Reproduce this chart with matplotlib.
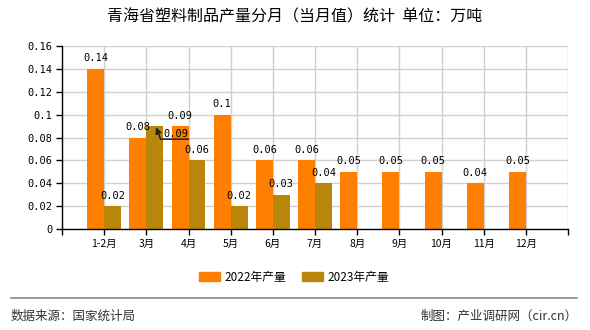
import numpy as np
import matplotlib
matplotlib.use("Agg")
import matplotlib.pyplot as plt
from matplotlib.patches import Patch
from matplotlib.lines import Line2D

plt.rcParams['font.family'] = ['Noto Sans CJK SC', 'DejaVu Sans']

months = ["1-2月", "3月", "4月", "5月", "6月", "7月", "8月", "9月", "10月", "11月", "12月"]
prod_2022 = [0.14, 0.08, 0.09, 0.1, 0.06, 0.06, 0.05, 0.05, 0.05, 0.04, 0.05]
prod_2023 = [0.02, 0.09, 0.06, 0.02, 0.03, 0.04]
series_names = ["2022年产量", "2023年产量"]
title = "青海省塑料制品产量分月（当月值）统计  单位：万吨"
source = "数据来源：国家统计局"
credit = "制图：产业调研网（cir.cn）"

c22 = "#FF8000"
c23 = "#B8860B"
num_font = "DejaVu Sans Mono"

fig = plt.figure(figsize=(5.9, 3.3), dpi=100)
ax = fig.add_axes([62/590, 1-229/330, 506/590, 183/330])

x = np.arange(len(months))
w = 0.4
ax.bar(x - w/2, prod_2022, w, color=c22, zorder=3)
x23 = np.arange(len(prod_2023))
ax.bar(x23 + w/2, prod_2023, w, color=c23, zorder=3)

def fmt(v):
    return ("%.2f" % v).rstrip("0").rstrip(".")

for xi, v in zip(x - w/2, prod_2022):
    ax.annotate(fmt(v), (xi, v), xytext=(0, 4), textcoords="offset points",
                ha="center", va="bottom", fontsize=7.5, family=num_font, zorder=5)
for i, (xi, v) in enumerate(zip(x23 + w/2, prod_2023)):
    if i == 1:
        # this label was pushed aside with a leader arrow (underlined)
        ax.annotate(fmt(v), (xi + 0.03, v - 0.001), xytext=(14.5, -5), textcoords="offset points",
                    ha="center", va="center", fontsize=7.5, family=num_font, zorder=6,
                    arrowprops=dict(arrowstyle="-|>", color="#222222", lw=1.1, shrinkA=0, shrinkB=0,
                                    relpos=(1, 0), mutation_scale=9, patchA=None,
                                    connectionstyle="angle,angleA=0,angleB=-69,rad=0"))
    else:
        ax.annotate(fmt(v), (xi, v), xytext=(0, 4), textcoords="offset points",
                    ha="center", va="bottom", fontsize=7.5, family=num_font, zorder=5)

ax.set_xlim(-1, len(months))
ax.set_ylim(0, 0.16)
ax.set_xticks(np.arange(-1, len(months) + 1))
ax.set_xticklabels([""] + months + [""], fontsize=7.5)
yt = np.arange(0, 0.161, 0.02)
ax.set_yticks(yt)
ax.set_yticklabels([fmt(v) for v in yt], family=num_font, fontsize=7.5)
ax.grid(True, color="#d0d0d0", lw=1, zorder=0)
ax.tick_params(axis="both", length=4, width=1, color="black", pad=3)
for s in ["top", "right"]:
    ax.spines[s].set_visible(False)
for s in ["left", "bottom"]:
    ax.spines[s].set_color("black")
    ax.spines[s].set_linewidth(1)
    ax.spines[s].set_zorder(4)

fig.text(0.5, 1-17/330, title, ha="center", va="center", fontsize=11.5)

handles = [Patch(color=c22), Patch(color=c23)]
fig.legend(handles, series_names, loc="center", bbox_to_anchor=(294/590, 1-277/330),
           ncol=2, frameon=False, fontsize=8.5, handlelength=1.8, handleheight=0.8,
           handletextpad=0.4, columnspacing=1.3)

fig.add_artist(Line2D([11/590, 577/590], [1-298/330, 1-298/330], color="#888888", lw=1.2))
fig.text(11/590, 1-316/330, source, ha="left", va="center", fontsize=9, color="#333333")
fig.text(578/590, 1-316/330, credit, ha="right", va="center", fontsize=9, color="#333333")

fig.savefig("out.png", dpi=100)
